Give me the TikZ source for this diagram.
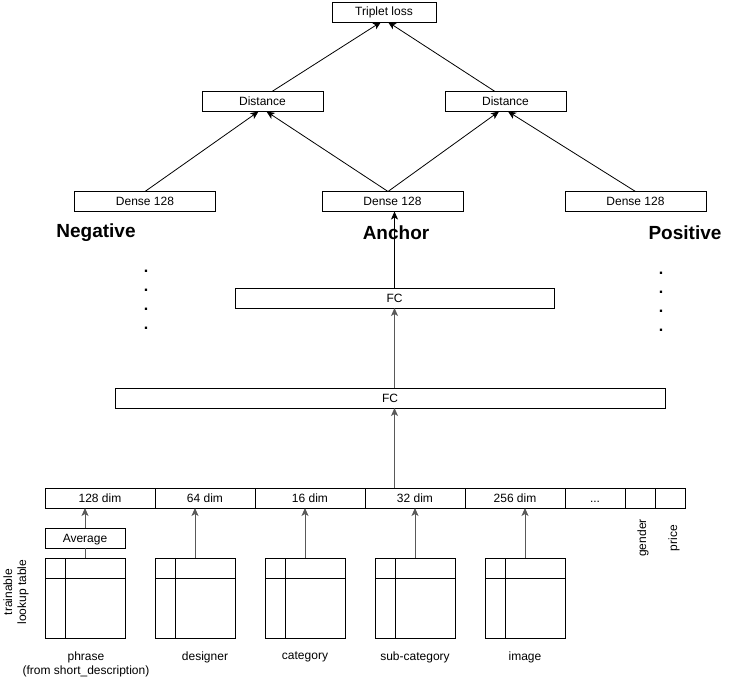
\documentclass[tikz,border=0pt]{standalone}
\usepackage{fontspec}
\setmainfont{Liberation Sans}
\usetikzlibrary{arrows.meta}
\begin{document}
\begin{tikzpicture}[x=1pt, y=-1pt,
    box/.style={draw, line width=0.8pt, minimum height=20pt, inner sep=0pt, outer sep=0pt,
        text height=9.5pt, text depth=1.5pt, font=\fontsize{12}{14}\selectfont},
    side/.style={font=\bfseries\fontsize{19}{21}\selectfont},
    small/.style={font=\fontsize{12}{14}\selectfont, align=center},
    dots/.style={font=\bfseries\fontsize{16}{19}\selectfont, align=center, inner sep=0pt},
    flow/.style={line width=0.8pt, -{Stealth[length=8pt, width=7pt, inset=2pt]}},
    feed/.style={flow, black!65},
    link/.style={line width=0.8pt, black!65}]
    \useasboundingbox (0,0) rectangle (731,679);
    % Loss and distances
    \node[box, minimum width=104pt] (loss) at (384,12) {Triplet loss};
    \node[box, minimum width=121pt] (distN) at (262.5,101.5) {Distance};
    \node[box, minimum width=121pt] (distP) at (505.5,101.5) {Distance};
    % Embedding heads
    \node[box, minimum width=141pt] (denseN) at (145,201.5) {Dense 128};
    \node[box, minimum width=141pt] (denseA) at (392.5,201.5) {Dense 128};
    \node[box, minimum width=141pt] (denseP) at (635.5,201.5) {Dense 128};
    \node[side] (neg) at (96,233) {Negative};
    \node[side] (anc) at (396,233) {Anchor};
    \node[side] (pos) at (685,233) {Positive};
    \node[dots] (dotsN) at (146,300) {.\\.\\.\\.};
    \node[dots] (dotsP) at (661,302) {.\\.\\.\\.};
    % Fully connected layers
    \node[box, minimum width=319pt] (fcA) at (394.5,298) {FC};
    \node[box, minimum width=550pt] (fcB) at (390,398) {FC};
    % Feature slots
    \foreach \l/\r/\t/\n in {45/155/128 dim/d128, 155/255/64 dim/d64, 255/365/16 dim/d16,
        365/465/32 dim/d32, 465/565/256 dim/d256, 565/625/{.{}.{}.}/dmore, 625/655//dgender, 655/685//dprice}
        \node[box, minimum width={(\r-\l)*1pt}] (\n) at ({(\l+\r)/2},498) {\t};
    \node[small, rotate=90] (gender) at (643,538) {gender};
    \node[small, rotate=90] (price) at (674,538) {price};
    \node[box, minimum width=80pt] (avg) at (85,538) {Average};
    % Lookup tables
    \foreach \x/\n in {45/phrase, 155/designer, 265/category, 375/subcat, 485/image} {
        \node[draw, line width=0.8pt, minimum size=80pt, inner sep=0pt, outer sep=0pt, anchor=north west] (t\n) at (\x,558) {};
        \draw[line width=0.8pt] ([yshift=-20pt]t\n.north west) -- ([yshift=-20pt]t\n.north east);
        \draw[line width=0.8pt] ([xshift=20pt]t\n.north west) -- ([xshift=20pt]t\n.south west);
    }
    \node[small] (lphrase) at (86,664) {phrase\\(from short\_description)};
    \node[small] (ldesigner) at (205,657) {designer};
    \node[small] (lcategory) at (305,657) {category};
    \node[small] (lsubcat) at (415,657) {sub-category};
    \node[small] (limage) at (525,657) {image};
    \node[small, rotate=90] (lookup) at (16,592) {trainable\\lookup table};
    % Connections
    \draw[flow] ([xshift=9.5pt]distN.north) -- ([xshift=-3pt]loss.south);
    \draw[flow] ([xshift=-10.5pt]distP.north) -- ([xshift=4pt]loss.south);
    \draw[flow] (denseN.north) -- ([xshift=-4pt]distN.south);
    \draw[flow] ([xshift=-4.5pt]denseA.north) -- ([xshift=4pt]distN.south);
    \draw[flow] ([xshift=-4.5pt]denseA.north) -- ([xshift=-6.5pt]distP.south);
    \draw[flow] (denseP.north) -- ([xshift=2.5pt]distP.south);
    \draw[flow] (fcA.north) -- (fcA.north |- denseA.south);
    \draw[feed] (fcB.north -| fcA.north) -- (fcA.south);
    \draw[feed] (d32.north -| fcA.north) -- (fcB.south -| fcA.north);
    \draw[link] (tphrase.north) -- (avg.south);
    \draw[feed] (avg.north) -- (avg.north |- d128.south);
    \draw[feed] (tdesigner.north) -- (tdesigner.north |- d64.south);
    \draw[feed] (tcategory.north) -- (tcategory.north |- d16.south);
    \draw[feed] (tsubcat.north) -- (tsubcat.north |- d32.south);
    \draw[feed] (timage.north) -- (timage.north |- d256.south);
\end{tikzpicture}
\end{document}
